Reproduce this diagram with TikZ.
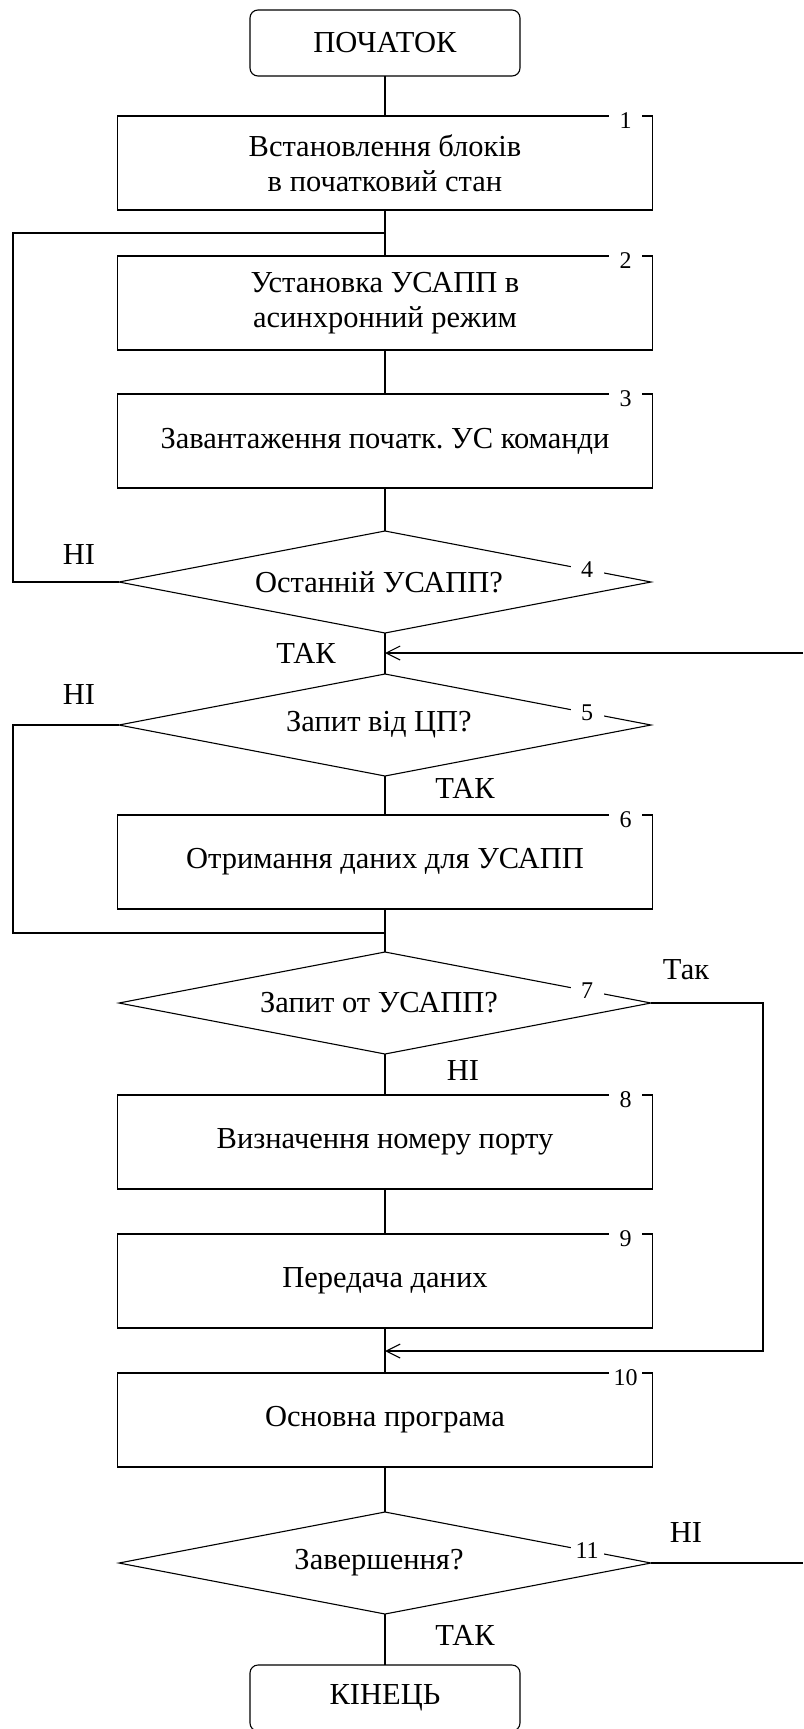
\documentclass[tikz,border=0pt]{standalone}
\usepackage{fontspec}
\setmainfont{Liberation Serif}
\frenchspacing
\usetikzlibrary{shapes.geometric,arrows.meta,calc}
\begin{document}
\begin{tikzpicture}[x=1pt,y=-1pt, line width=1.1pt,
  every node/.style={font=\fontsize{30.5}{35}\selectfont},
  termbox/.style={draw, rounded corners=8pt, minimum width=270pt, minimum height=66pt, inner sep=0pt, outer sep=0pt},
  procbox/.style={draw, minimum width=535pt, minimum height=94pt, align=center, inner sep=0pt, outer sep=0pt},
  decision/.style={draw, diamond, aspect=5.2, minimum width=532pt, minimum height=102pt, inner sep=0pt, outer sep=0pt},
  numlabel/.style={fill=white, font=\fontsize{24}{24}\selectfont, inner sep=0pt, minimum width=33pt, minimum height=17pt},
  back/.style={-{Straight Barb[length=14pt,width=14pt]}}]
\useasboundingbox (0,0) rectangle (803,1729);

% blocks of the algorithm
\node[termbox] (start) at (385,43) {ПОЧАТОК};
\node[procbox] (b1) at (385,163) {Встановлення блоків\\в початковий стан};
\node[procbox] (b2) at (385,303) {Установка УСАПП в\\асинхронний режим};
\node[procbox] (b3) at (385,441) {Завантаження початк. УС команди};
\node[decision] (d4) at (385,582) {};
\node (t4) at ([xshift=-6pt]d4.center) {Останній УСАПП?};
\node[decision] (d5) at (385,725) {};
\node (t5) at ([xshift=-6pt]d5.center) {Запит від ЦП?};
\node[procbox] (b6) at (385,862) {Отримання даних для УСАПП};
\node[decision] (d7) at (385,1003) {};
\node (t7) at ([xshift=-6pt]d7.center) {Запит от УСАПП?};
\node[procbox] (b8) at (385,1142) {Визначення номеру порту};
\node[procbox] (b9) at (385,1281) {Передача даних};
\node[procbox] (b10) at (385,1420) {Основна програма};
\node[decision] (d11) at (385,1563) {};
\node (t11) at ([xshift=-6pt]d11.center) {Завершення?};
\node[termbox] (end) at (385,1698) {КІНЕЦЬ};

% block numbers
\node[numlabel] (n1) at ([xshift=-27pt,yshift=-5pt]b1.north east) {1};
\node[numlabel] (n2) at ([xshift=-27pt,yshift=-5pt]b2.north east) {2};
\node[numlabel] (n3) at ([xshift=-27pt,yshift=-5pt]b3.north east) {3};
\node[numlabel] (n4) at ($(d4.north)!0.76!(d4.east)$) {4};
\node[numlabel] (n5) at ($(d5.north)!0.76!(d5.east)$) {5};
\node[numlabel] (n6) at ([xshift=-27pt,yshift=-5pt]b6.north east) {6};
\node[numlabel] (n7) at ($(d7.north)!0.76!(d7.east)$) {7};
\node[numlabel] (n8) at ([xshift=-27pt,yshift=-5pt]b8.north east) {8};
\node[numlabel] (n9) at ([xshift=-27pt,yshift=-5pt]b9.north east) {9};
\node[numlabel] (n10) at ([xshift=-27pt,yshift=-5pt]b10.north east) {10};
\node[numlabel] (n11) at ($(d11.north)!0.76!(d11.east)$) {11};

% branch labels
\node (l4n) at (79,555) {НІ};
\node (l4y) at (306,653) {ТАК};
\node (l5n) at (79,695) {НІ};
\node (l5y) at (465,788) {ТАК};
\node (l7y) at (686,970) {Так};
\node (l7n) at (463,1070) {НІ};
\node (l11n) at (686,1532) {НІ};
\node (l11y) at (465,1635) {ТАК};

% junction points and side rails
\coordinate (j1) at (385,233);
\coordinate (j3) at (385,653);
\coordinate (j2) at (385,933);
\coordinate (j4) at (385,1351);
\coordinate (L) at (13,0);
\coordinate (R) at (763,0);
\coordinate (E) at (803,0);

% main flow
\draw (start) -- (b1);
\draw (b1) -- (b2);
\draw (b2) -- (b3);
\draw (b3) -- (d4);
\draw (d4) -- (d5);
\draw (d5) -- (b6);
\draw (b6) -- (d7);
\draw (d7) -- (b8);
\draw (b8) -- (b9);
\draw (b9) -- (b10);
\draw (b10) -- (d11);
\draw (d11) -- (end);

% loops
\draw (d4.west) -- (d4.west -| L) -- (j1 -| L) -- (j1);
\draw (d5.west) -- (d5.west -| L) -- (j2 -| L) -- (j2);
\draw[back] (d7.east) -- (d7.east -| R) -- (j4 -| R) -- (j4);
\draw[back] (j3 -| E) -- (j3);
\draw (d11.east) -- (d11.east -| E);
\end{tikzpicture}
\end{document}
